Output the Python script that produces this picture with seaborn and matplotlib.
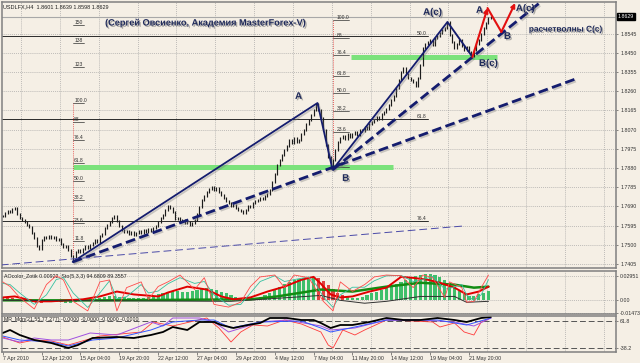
import numpy as np
import pandas as pd
from matplotlib import pyplot as plt
import matplotlib.patheffects as pe
import seaborn as sns

# ---------------- values ----------------
# USDLFX H4, close of each bar from 7 Apr 2010 to 21 May 2010
closes = [
    1.7643, 1.7658, 1.7667, 1.7663, 1.7677, 1.7682, 1.7653, 1.7633,
    1.7623, 1.7613, 1.7598, 1.7588, 1.7559, 1.7534, 1.7494, 1.7479,
    1.7524, 1.7539, 1.7534, 1.7544, 1.7534, 1.7539, 1.7524, 1.7529,
    1.7504, 1.7489, 1.7494, 1.7475, 1.7445, 1.7430, 1.7465, 1.7475,
    1.7465, 1.7479, 1.7494, 1.7484, 1.7499, 1.7509, 1.7524, 1.7514,
    1.7544, 1.7554, 1.7583, 1.7598, 1.7613, 1.7633, 1.7643, 1.7618,
    1.7593, 1.7574, 1.7564, 1.7569, 1.7554, 1.7564, 1.7549, 1.7559,
    1.7569, 1.7559, 1.7574, 1.7564, 1.7578, 1.7569, 1.7583, 1.7593,
    1.7613, 1.7633, 1.7648, 1.7673, 1.7692, 1.7682, 1.7663, 1.7628,
    1.7633, 1.7618, 1.7623, 1.7608, 1.7613, 1.7598, 1.7608, 1.7623,
    1.7653, 1.7687, 1.7722, 1.7742, 1.7762, 1.7776, 1.7786, 1.7772,
    1.7781, 1.7762, 1.7747, 1.7732, 1.7717, 1.7707, 1.7692, 1.7697,
    1.7682, 1.7673, 1.7667, 1.7658, 1.7673, 1.7692, 1.7687, 1.7707,
    1.7717, 1.7722, 1.7732, 1.7727, 1.7742, 1.7752, 1.7772, 1.7811,
    1.7851, 1.7895, 1.7920, 1.7945, 1.7970, 1.7989, 1.8019, 1.8004,
    1.8029, 1.8009, 1.8019, 1.8049, 1.8069, 1.8098, 1.8118, 1.8143,
    1.8168, 1.8197, 1.8168, 1.8128, 1.8069, 1.7994, 1.7935, 1.7880,
    1.7920, 1.7970, 1.8009, 1.8029, 1.8039, 1.8024, 1.8049, 1.8034,
    1.8049, 1.8059, 1.8044, 1.8069, 1.8064, 1.8083, 1.8073, 1.8098,
    1.8108, 1.8118, 1.8133, 1.8123, 1.8148, 1.8158, 1.8172, 1.8192,
    1.8217, 1.8237, 1.8276, 1.8316, 1.8356, 1.8375, 1.8346, 1.8326,
    1.8316, 1.8306, 1.8286, 1.8326, 1.8390, 1.8474, 1.8494, 1.8504,
    1.8514, 1.8489, 1.8524, 1.8534, 1.8549, 1.8564, 1.8573, 1.8600,
    1.8539, 1.8504, 1.8474, 1.8494, 1.8514, 1.8484, 1.8465, 1.8479,
    1.8455, 1.8435, 1.8465, 1.8494, 1.8514, 1.8544, 1.8573, 1.8598,
    1.8623, 1.8629,
]
last_price = 1.8629

time_labels = ["7 Apr 2010", "12 Apr 12:00", "15 Apr 04:00", "19 Apr 20:00",
               "22 Apr 12:00", "27 Apr 04:00", "29 Apr 20:00", "4 May 12:00",
               "7 May 04:00", "11 May 20:00", "14 May 12:00", "19 May 04:00",
               "21 May 20:00"]
label_bars = [16 * k for k in range(len(time_labels))]
grid_bars = [7.5 + 16 * k for k in range(16)]

price_ticks = [1.7405, 1.7500, 1.7595, 1.7690, 1.7785, 1.7880, 1.7975,
               1.8070, 1.8165, 1.8260, 1.8355, 1.8450, 1.8545]

# wave path (bar, price): start, A, B, A(c), B(c)
wave_bars = [28.8, 129.6, 135.8, 183.1, 193.4]
wave_prices = [1.7415, 1.8202, 1.7871, 1.8603, 1.8430]

# dashed trend lines (start bar, start price, end bar, end price)
trend_lines = [
    (28.8, 1.7415, 237.0, 1.8326),
    (135.8, 1.7871, 222.0, 1.8707),
]
thin_trend = (-0.8, 1.7400, 189.7, 1.7593)

# projected wave C(c) in red
proj_bars = [193.4, 199.6, 205.3, 211.0]
proj_prices = [1.8430, 1.8672, 1.8554, 1.8697]

# fibonacci grids
fib1_levels = [11.8, 23.6, 38.2, 50.0, 61.8, 76.4, 88, 100.0, 123, 138, 150]
fib1_labels = ["11.8", "23.6", "38.2", "50.0", "61.8", "76.4", "88", "100.0",
               "123", "138", "150"]
fib1_anchor = (28.8, 1.7425, 1.8202)   # bar, price at 0, price at 100
fib2_levels = [0.0, 23.6, 38.2, 50.0, 61.8, 76.4, 88, 100.0]
fib2_labels = ["0.0", "23.6", "38.2", "50.0", "61.8", "76.4", "88", "100.0"]
fib2_anchor = (136.0, 1.7885, 1.8613)
fib3_labels = ["50.0", "61.8", "76.4"]
fib3_prices = [1.8536, 1.8123, 1.7618]
fib3_end = 175.0

# green support zones (price, from bar, to bar)
zones = [(1.7887, 28.8, 160.5), (1.8430, 143.2, 203.7)]

# AOcolor_Zotik histogram, every second bar
ao_bars = list(range(0, 202, 2))
ao_values = [
    0.0024, 0.0024, 0.0024, 0.0012, 0.0, -0.0012, -0.0024, -0.0035, -0.0035,
    -0.0024, -0.0024, -0.0024, -0.0024, -0.0035, -0.0035,
    -0.0024, -0.0012, 0.0, 0.0012, 0.0012, 0.0024, 0.0035, 0.0047, 0.0047,
    0.0035, 0.0035, 0.0024, 0.0024, 0.0024, 0.0024, 0.0035,
    0.0047, 0.0071, 0.0094, 0.0106, 0.0118, 0.0118, 0.0106, 0.0106, 0.0118,
    0.0130, 0.0142, 0.0153, 0.0142, 0.0130, 0.0106, 0.0083,
    0.0059, 0.0035, 0.0024, 0.0012, 0.0012, 0.0024, 0.0035, 0.0059, 0.0094,
    0.0130, 0.0165, 0.0201, 0.0224, 0.0248, 0.0260, 0.0271,
    0.0283, 0.0283, 0.0271, 0.0236, 0.0189, 0.0142, 0.0094, 0.0059, 0.0035,
    0.0024, 0.0024, 0.0035, 0.0059, 0.0083, 0.0106, 0.0130,
    0.0153, 0.0177, 0.0201, 0.0224, 0.0248, 0.0271, 0.0295, 0.0307, 0.0319,
    0.0319, 0.0307, 0.0283, 0.0248, 0.0212, 0.0165, 0.0118,
    0.0071, 0.0047, 0.0047, 0.0071, 0.0094, 0.0118,
]
ao_colors = "r" * 11 + "g" * 54 + "r" * 6 + "g" * 30

ao_red_bars = [0, 5, 13, 20, 33, 40, 47, 54, 64, 68, 76, 84, 90, 95, 102, 109,
               116, 123, 128, 131, 135, 139, 144, 151, 158, 164, 169, 175, 180,
               186, 191, 196, 200]
ao_red_vals = [0.0035, 0.0047, -0.0012, -0.0012, 0.0012, 0.0047, 0.0106, 0.0071,
               0.0047, 0.0094, 0.0165, 0.0130, 0.0047, 0.0012, 0.0035, 0.0106,
               0.0165, 0.0248, 0.0283, 0.0200, 0.0071, 0.0035, 0.0047, 0.0106,
               0.0153, 0.0283, 0.0271, 0.0248, 0.0212, 0.0153, 0.0071, 0.0106,
               0.0165]
ao_green_bars = [0, 41, 102, 113, 131, 144, 158, 172, 186, 194, 200]
ao_green_vals = [0.0, 0.0, 0.0012, 0.0047, 0.0130, 0.0106, 0.0165, 0.0212,
                 0.0189, 0.0153, 0.0165]
ao_dark_bars = [0, 94, 131, 139, 149, 158, 172, 186, 191, 200]
ao_dark_vals = [0.0, -0.0012, 0.0059, 0.0, -0.0035, -0.0012, 0.0047, 0.0047,
                -0.0024, -0.0012]

# Sto(5,3,3)
sto_bars = [0, 3, 7, 13, 18, 22, 25, 29, 35, 40, 44, 47, 51, 57, 60, 64, 68, 73,
            79, 83, 87, 93, 98, 102, 106, 112, 116, 120, 126, 129, 132, 136,
            139, 144, 149, 153, 158, 164, 169, 173, 177, 182, 184, 189, 191,
            194, 197, 200]
sto_main = [79, 67, 38, 8, 72, 95, 84, 28, 3, 79, 84, 3, 64, 79, 33, 67, 79, 97,
            59, 90, 20, 13, 26, 67, 92, 97, 64, 97, 90, 59, 28, 3, 79, 54, 72,
            92, 97, 95, 64, 97, 90, 38, 79, 64, 26, 28, 64, 97]
sto_signal = [75, 72, 50, 20, 45, 85, 90, 50, 12, 50, 82, 35, 40, 72, 50, 55, 74,
              90, 75, 80, 45, 18, 20, 50, 80, 95, 80, 85, 92, 72, 40, 12, 45,
              65, 65, 82, 95, 96, 80, 85, 93, 60, 62, 72, 45, 30, 45, 85]

# MR_Mdn(21,55,77,277)
mr_black_bars = [0, 3, 7, 13, 20, 27, 31, 37, 47, 54, 61, 66, 70, 76, 81, 87, 90,
                 95, 101, 106, 110, 117, 123, 128, 131, 135, 139, 144, 151, 158,
                 165, 172, 179, 186, 191, 197, 201]
mr_black = [17.4, 28.5, 10.0, -8.5, -19.6, -38.1, -27.0, -1.1, 2.6, -1.1, 10.0,
            21.1, 39.6, 28.5, 58.1, 58.1, 47.0, 35.9, 47.0, 54.4, 72.9, 72.9,
            65.5, 65.5, 54.4, 35.9, 47.0, 47.0, 58.1, 72.9, 65.5, 65.5, 72.9,
            65.5, 58.1, 72.9, 76.6]
mr_violet_bars = [0, 7, 13, 20, 27, 36, 47, 61, 66, 70, 81, 87, 93, 101, 106,
                  117, 131, 135, 145, 158, 172, 186, 194, 201]
mr_violet = [-1.1, -15.9, -1.1, -8.5, -8.5, 17.4, 10.0, 58.1, 43.3, 72.9, 72.9,
             58.1, 21.1, 43.3, 58.1, 65.5, 43.3, 28.5, 35.9, 65.5, 65.5, 58.1,
             43.3, 72.9]
mr_blue_bars = [0, 7, 20, 27, 37, 47, 61, 70, 81, 87, 94, 106, 123, 131, 135,
                145, 158, 179, 191, 201]
mr_blue = [6.3, -8.5, -15.9, -30.7, -8.5, -1.1, 28.5, 58.1, 65.5, 65.5, 35.9,
           58.1, 61.8, 35.9, 21.1, 39.6, 65.5, 65.5, 47.0, 72.9]
mr_red_bars = [0, 7, 13, 20, 27, 40, 57, 62, 70, 84, 89, 94, 98, 103, 109, 116,
               123, 131, 134, 136, 140, 145, 149, 158, 169, 177, 180, 186, 190,
               194, 197, 201]
mr_red = [2.6, -19.6, -8.5, -12.2, -27.0, 6.3, 21.1, 58.1, 43.3, 72.9, 35.9,
          -15.9, 21.1, 47.0, 43.3, 65.5, 50.7, 21.1, -27.0, -38.1, 28.5, 10.0,
          28.5, 65.5, 61.8, 58.1, 39.6, 54.4, 21.1, 10.0, 58.1, 72.9]
mr_levels = [61.8, -38.2]

# ---------------- style ----------------
BG = "#f5efe5"
NAVY = "#141c6e"
TXT = "#1f2a5a"
GRID = "#9e9e9e"

sns.set_theme(style="white", rc={"axes.facecolor": BG, "figure.facecolor": BG})
plt.rcParams["font.family"] = ["Liberation Sans", "DejaVu Sans"]

fig = plt.figure(figsize=(6.4, 3.63), dpi=100)
L, W = 2 / 640, 614 / 640
ax = fig.add_axes([L, 1 - 268 / 363, W, 266 / 363])
ax1 = fig.add_axes([L, 1 - 314 / 363, W, 43 / 363], sharex=ax)
ax1s = fig.add_axes([L, 1 - 314 / 363, W, 43 / 363], sharex=ax, facecolor="none")
ax2 = fig.add_axes([L, 1 - 352 / 363, W, 36 / 363], sharex=ax)

XMAX = 252.5
ax.set_xlim(-0.3, XMAX)
ax.set_ylim(1.7385, 1.8702)
ax1.set_ylim(-0.0165, 0.0354)
ax1s.set_ylim(-5.1, 107.5)
ax2.set_ylim(-52.9, 80.3)

dotted = (0, (1.2, 1.6))
for a in (ax, ax1, ax2):
    a.set_axisbelow(True)
    a.set_xticks(label_bars)
    a.set_xticks(grid_bars, minor=True)
    a.grid(which="minor", axis="x", color=GRID, ls=dotted, lw=0.5)
    a.grid(which="major", axis="y", color=GRID, ls=dotted, lw=0.5)
    a.xaxis.grid(False, which="major")
    a.yaxis.tick_right()
    a.tick_params(axis="y", right=True, left=False, labelright=True, labelleft=False,
                  length=1.5, width=0.4, pad=1.5, labelsize=3.8, colors="#303030")
    a.tick_params(axis="x", which="both", length=0, labelbottom=False)
    for s in a.spines.values():
        s.set_color("#808080")
        s.set_linewidth(1.1)

ax1s.axis("off")

# ---------------- main price chart ----------------
bars = np.arange(len(closes))
opens = [closes[0]] + closes[:-1]
highs = np.maximum(opens, closes) + 0.0006
lows = np.minimum(opens, closes) - 0.0006
ax.vlines(bars, lows, highs, color="#1c1c1c", lw=0.85, zorder=3)

ax.set_yticks(price_ticks)
ax.set_yticklabels([f"{p:.4f}" for p in price_ticks])
ax.axhline(last_price, color="#a8a8a8", lw=0.8, zorder=2)
ax.text(1.003, last_price, f"{last_price:.4f}", transform=ax.get_yaxis_transform(),
        fontsize=3.8, color="white", va="center", ha="left", clip_on=False,
        bbox=dict(boxstyle="square,pad=0.2", fc="black", ec="black"))

for price, b0, b1 in zones:
    ax.plot([b0, b1], [price, price], color="#7be27b", lw=3.6, zorder=2,
            solid_capstyle="butt")

# fibonacci grids
fb, p0, p100 = fib1_anchor
ax.plot([fb, fb], [p0, p100], color="#e03030", lw=0.6, ls=(0, (1, 1.5)), zorder=2)
for lev, lab in zip(fib1_levels, fib1_labels):
    p = p0 + (p100 - p0) * lev / 100
    ax.plot([fb, fb + 4.6], [p, p], color="#303030", lw=0.5, zorder=2)
    ax.text(fb + 0.6, p, lab, fontsize=3.6, color="#303030", va="bottom", zorder=2)
fb, p0, p100 = fib2_anchor
ax.plot([fb, fb], [p0, p100], color="#e03030", lw=0.6, ls=(0, (1, 1.5)), zorder=2)
for lev, lab in zip(fib2_levels, fib2_labels):
    p = p0 + (p100 - p0) * lev / 100
    ax.plot([fb, fb + 6.5], [p, p], color="#303030", lw=0.5, zorder=2)
    ax.text(fb + 1.5, p, lab, fontsize=3.6, color="#303030", va="bottom", zorder=2)
for p, lab in zip(fib3_prices, fib3_labels):
    ax.plot([-0.3, fib3_end], [p, p], color="#2a2a2a", lw=0.7, zorder=2)
    ax.text(fib3_end - 0.5, p, lab, fontsize=3.6, color="#303030", va="bottom",
            ha="right", zorder=2)

# trend lines
line_fx = [pe.SimpleLineShadow(offset=(1, -1.2), shadow_color="#777777", alpha=0.35),
           pe.Normal()]
ax.plot(wave_bars, wave_prices, color=NAVY, lw=1.3, zorder=4, path_effects=line_fx)
for b0, q0, b1, q1 in trend_lines:
    ax.plot([b0, b1], [q0, q1], color=NAVY, lw=2.0, ls=(0, (3.5, 1.6)), zorder=4,
            path_effects=line_fx)
b0, q0, b1, q1 = thin_trend
ax.plot([b0, b1], [q0, q1], color="#4a4aa8", lw=0.7, ls=(0, (8, 4)), zorder=4)

# projected wave in red
red = "#e31010"
ax.annotate("", xy=(proj_bars[1], proj_prices[1]), xytext=(proj_bars[0], proj_prices[0]),
            arrowprops=dict(arrowstyle="-|>", color=red, lw=1.5, mutation_scale=6,
                            shrinkA=0, shrinkB=0), zorder=5)
ax.plot(proj_bars[1:3], proj_prices[1:3], color=red, lw=1.5, zorder=5)
ax.annotate("", xy=(proj_bars[3], proj_prices[3]), xytext=(proj_bars[2], proj_prices[2]),
            arrowprops=dict(arrowstyle="-|>", color=red, lw=1.5, mutation_scale=6,
                            shrinkA=0, shrinkB=0), zorder=5, annotation_clip=False)

# wave labels
text_fx = [pe.SimplePatchShadow(offset=(1, -1), shadow_rgbFace="#7a7a7a", alpha=0.6),
           pe.Normal()]
wave_labels = [("A", 121.8, 1.8237), ("B", 141.2, 1.7831), ("A(c)", 177.0, 1.8653),
               ("B(c)", 200.0, 1.8400), ("A", 196.3, 1.8663), ("B", 207.8, 1.8534),
               ("A(c)", 215.2, 1.8672)]
for lab, b, p in wave_labels:
    ax.text(b, p, lab, fontsize=7, fontweight="bold", color=TXT, ha="center",
            va="center", zorder=6, path_effects=text_fx)
ax.text(232, 1.8563, "расчетволны C(c)", fontsize=6, fontweight="bold", color=TXT,
        ha="center", va="center", zorder=6, path_effects=text_fx)
ax.text(83.5, 1.8598, "(Сергей Овсиенко, Академия MasterForex-V)", fontsize=6.6,
        fontweight="bold", color=TXT, ha="center", va="center", zorder=6,
        path_effects=text_fx)
ax.text(0.002, 0.993, "USDLFX,H4  1.8601 1.8639 1.8598 1.8629", transform=ax.transAxes,
        fontsize=4, color="#202020", va="top", ha="left", zorder=6)

# ---------------- AOcolor_Zotik + Sto panel ----------------
col_map = {"g": "#3fbf6a", "r": "#e04040"}
ax1.bar(ao_bars, ao_values, width=1.3, color=[col_map[c] for c in ao_colors],
        edgecolor="none", zorder=2)


def ind_line(a, xs, ys, color, lw):
    df = pd.DataFrame({"bar": xs, "val": ys})
    sns.lineplot(data=df, x="bar", y="val", ax=a, color=color, linewidth=lw,
                 sort=False, legend=False)
    a.set_xlabel("")
    a.set_ylabel("")


ind_line(ax1, ao_green_bars, ao_green_vals, "#128c12", 1.8)
ind_line(ax1, ao_red_bars, ao_red_vals, "#e00000", 1.4)
ind_line(ax1, ao_dark_bars, ao_dark_vals, "#303030", 0.7)
ind_line(ax1s, sto_bars, sto_signal, "#36c0a0", 0.6)
ind_line(ax1s, sto_bars, sto_main, "#ff4a4a", 0.6)
ax1s.axis("off")

ax1.set_yticks([-0.01473, 0.0, 0.02951])
ax1.set_yticklabels(["-0.01473", "0.00", "0.02951"])
ax1.text(0.003, 0.93, "AOcolor_Zotik 0.00922  Sto(5,3,3) 94.6809 89.3557",
         transform=ax1.transAxes, fontsize=3.8, color="#202020", va="top", zorder=6)

# ---------------- MR_Mdn panel ----------------
ind_line(ax2, mr_red_bars, mr_red, "#ff3a3a", 0.6)
ind_line(ax2, mr_violet_bars, mr_violet, "#a050e0", 0.7)
ind_line(ax2, mr_blue_bars, mr_blue, "#3355ff", 0.7)
ind_line(ax2, mr_black_bars, mr_black, "#000000", 1.3)
for lev in mr_levels:
    ax2.axhline(lev, color="#555555", lw=0.7, ls=(0, (6, 3)), zorder=1)
ax2.set_yticks(mr_levels)
ax2.set_yticklabels(["61.8", "-38.2"])
ax2.yaxis.grid(False)
ax2.text(0.003, 0.97, "MR_Mdn(21,55,77,277) -0.0000 -0.0000 -0.0000 -0.0000",
         transform=ax2.transAxes, fontsize=3.8, color="#202020", va="top", zorder=6)

ax2.set_xticks(label_bars)
ax2.set_xticklabels(time_labels)
ax2.tick_params(axis="x", which="major", bottom=True, length=2, width=0.4,
                labelbottom=True, labelsize=3.8, pad=1, colors="#303030")
for t in ax2.get_xticklabels():
    t.set_ha("left")

ax.set_xlim(-0.3, XMAX)
fig.savefig("out.png", dpi=100, facecolor=BG)
